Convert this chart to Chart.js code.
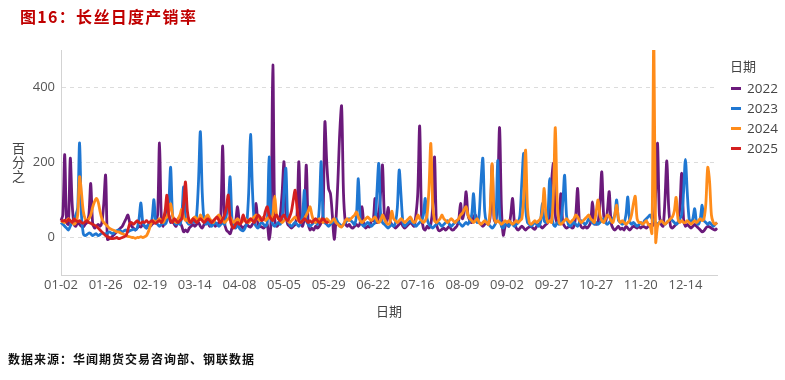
<!DOCTYPE html>
<html>
<head>
<meta charset="utf-8">
<script src="https://cdn.jsdelivr.net/npm/chart.js@4.4.1/dist/chart.umd.min.js"></script>
<style>
  html, body { margin:0; padding:0; background:#fff; }
  #wrap { position:relative; width:785px; height:380px; overflow:hidden; background:#fff; }
  #c { position:absolute; left:0; top:0; }
  .txt { position:absolute; white-space:nowrap; }
  #title { left:20px; top:8px; font-family:"Noto Sans CJK SC"; font-weight:700; font-size:16px; line-height:17px; color:#c00000; letter-spacing:1.3px; }
  #ytitle { left:11px; top:142px; font-family:"Noto Sans CJK SC"; font-size:13px; line-height:14px; color:#444; writing-mode:vertical-rl; letter-spacing:1px; }
  #xtitle { left:376px; top:304px; font-family:"Noto Sans CJK SC"; font-size:13px; line-height:14px; color:#444; }
  #legtitle { left:730px; top:59px; font-family:"Noto Sans CJK SC"; font-size:13px; line-height:14px; color:#444; }
  .lm { position:absolute; left:731px; width:10px; height:3px; }
  .lt { position:absolute; left:747px; font-family:"Open Sans"; font-size:13.5px; line-height:16px; color:#444; }
  #source { left:8px; top:352px; font-family:"Noto Sans CJK SC"; font-weight:700; font-size:12px; line-height:14px; color:#111; letter-spacing:1px; }
</style>
</head>
<body>
<div id="wrap">
  <canvas id="c" width="785" height="380"></canvas>
  <div id="title" class="txt">图16：长丝日度产销率</div>
  <div id="ytitle" class="txt">百分之</div>
  <div id="xtitle" class="txt">日期</div>
  <div id="legtitle" class="txt">日期</div>
  <div id="legend"></div>
  <div id="source" class="txt">数据来源：华闻期货交易咨询部、钢联数据</div>
</div>
<script>
// ---------- data ----------
const monthDays = [31, 29, 31, 30, 31, 30, 31, 31, 30, 31, 30, 31];
const missingDays = ['01-01', '04-05', '05-01', '05-02', '05-03', '09-15',
  '10-01', '10-02', '10-03', '10-04', '10-05', '10-06'];
const categories = [];
monthDays.forEach((n, m) => {
  for (let d = 1; d <= n; d++) {
    const s = String(m + 1).padStart(2, '0') + '-' + String(d).padStart(2, '0');
    if (!missingDays.includes(s)) categories.push(s);
  }
});
const tickLabels = ['01-02', '01-26', '02-19', '03-14', '04-08', '05-05', '05-29', '06-22',
  '07-16', '08-09', '09-02', '09-27', '10-27', '11-20', '12-14'];
const seriesNames = ['2022', '2023', '2024', '2025'];
const seriesColors = ['#6b1a7b', '#1f77d2', '#ff8c1a', '#d42020'];

const v2022 = [
  45, 60, 221, 40, 35, 211, 90, 35, 30, 40, 35, 30, 28, 35, 40, 60, 144, 40, 25, 30, 35, 30, 40, 90,
  166, -5, -3, 0, 5, 10, 15, 20, 25, 30, 40, 50, 60, 40, 30, 25, 20, 25, 30, 28, 35, 30, 25, 35,
  30, 35, 40, 45, 60, 252, 50, 30, 55, 75, 60, 40, 45, 35, 30, 50, 40, 30, 15, 20, 15, 25, 30, 35,
  30, 35, 40, 30, 25, 35, 45, 40, 30, 35, 40, 30, 35, 40, 60, 244, 40, 20, 15, 10, 25, 35, 45, 82,
  40, 30, 25, 30, 35, 30, 28, 35, 40, 91, 35, 30, 28, 25, 30, 35, -5, 40, 460, 50, 30, 35, 60, 120,
  202, 60, 35, 30, 25, 30, 35, 60, 202, 40, 30, 60, 193, 40, 20, 25, 20, 30, 25, 30, 40, 60, 308, 200,
  130, 117, 60, -5, 50, 150, 280, 350, 120, 40, 30, 35, 28, 25, 30, 35, 30, 40, 82, 35, 25, 30, 28, 45,
  45, 104, 40, 60, 120, 193, 60, 40, 80, 45, 35, 30, 25, 30, 35, 40, 30, 25, 30, 35, 40, 35, 30, 60,
  120, 297, 60, 25, 20, 30, 25, 35, 80, 215, 40, 20, 18, 22, 25, 20, 25, 30, 22, 20, 25, 30, 45, 91,
  50, 70, 122, 60, 45, 40, 55, 60, 45, 40, 35, 30, 35, 40, 35, 60, 193, 50, 40, 120, 293, 80, 6, 30,
  35, 30, 60, 104, 40, 25, 20, 25, 30, 25, 20, 25, 28, 30, 25, 22, 30, 35, 30, 25, 30, 35, 40, 60,
  150, 197, 60, 40, 50, 117, 40, 30, 25, 28, 30, 25, 30, 60, 131, 40, 28, 25, 30, 25, 30, 40, 95, 40,
  35, 40, 90, 175, 60, 40, 70, 122, 40, 25, 20, 25, 30, 22, 25, 20, 30, 25, 20, 25, 30, 28, 25, 30,
  25, 30, 28, 25, 30, 35, 30, 40, 120, 251, 60, 35, 30, 100, 204, 80, 30, 25, 30, 35, 40, 80, 171, 50,
  30, 35, 30, 25, 30, 35, 30, 25, 20, 15, 18, 25, 30, 28, 25, 22, 20, 25
];
const v2023 = [
  40, 35, 30, 25, 20, 30, 40, 50, 60, 80, 252, 60, 10, 5, 8, 12, 10, 5, 8, 10, 5, 8, 12, 10,
  10, 12, 15, 12, 10, 15, 18, 20, 18, 15, 18, 20, 15, 18, 20, 22, 20, 25, 50, 92, 40, 30, 25, 35,
  35, 50, 101, 40, 35, 30, 35, 40, 35, 45, 90, 187, 60, 40, 35, 40, 35, 60, 135, 50, 40, 35, 40, 45,
  40, 60, 150, 282, 120, 45, 35, 40, 35, 30, 35, 40, 35, 30, 35, 40, 35, 60, 90, 162, 50, 30, 25, 35,
  25, 20, 18, 25, 40, 120, 275, 130, 40, 30, 25, 35, 40, 35, 30, 40, 215, 50, 35, 30, 35, 40, 35, 50,
  120, 184, 50, 35, 30, 35, 40, 35, 30, 40, 60, 126, 45, 35, 30, 35, 40, 45, 35, 80, 202, 60, 40, 35,
  30, 35, 40, 45, 50, 40, 35, 30, 35, 40, 45, 50, 45, 40, 35, 60, 157, 50, 35, 30, 35, 40, 35, 30,
  35, 40, 120, 197, 60, 40, 35, 30, 25, 30, 35, 30, 40, 80, 180, 110, 40, 30, 35, 40, 45, 40, 35, 30,
  35, 40, 45, 60, 104, 50, 35, 30, 25, 30, 35, 40, 35, 30, 35, 40, 45, 35, 30, 35, 40, 45, 40, 35,
  30, 35, 40, 35, 45, 60, 117, 50, 40, 60, 150, 211, 70, 40, 35, 30, 25, 30, 40, 205, 60, 30, 25, 35,
  35, 30, 40, 35, 30, 35, 40, 60, 150, 224, 80, 40, 35, 30, 35, 40, 35, 30, 40, 91, 45, 40, 60, 157,
  60, 35, 30, 40, 35, 45, 90, 166, 60, 35, 30, 35, 40, 35, 30, 40, 45, 40, 35, 40, 50, 45, 40, 35,
  40, 35, 40, 45, 50, 40, 35, 40, 45, 50, 60, 100, 45, 40, 35, 40, 60, 108, 45, 35, 40, 35, 30, 35,
  40, 35, 45, 50, 55, 60, 50, 45, 40, 35, 40, 45, 40, 35, 40, 45, 50, 45, 40, 35, 40, 50, 60, 120,
  208, 120, 50, 40, 50, 77, 40, 35, 50, 86, 45, 40, 35, 40, 35, 30, 35, 40
];
const v2024 = [
  45, 42, 40, 45, 50, 45, 40, 35, 40, 60, 162, 120, 70, 50, 45, 50, 60, 80, 95, 104, 95, 70, 50, 40,
  35, 30, 25, 22, 20, 18, 15, 15, 12, 10, 8, 5, 3, 2, 0, 0, -2, 0, 0, 2, 0, 2, 5, 15,
  30, 42, 45, 40, 45, 50, 45, 40, 50, 55, 70, 90, 60, 45, 40, 50, 60, 75, 55, 45, 50, 40, 45, 50,
  55, 50, 45, 60, 50, 45, 55, 60, 50, 45, 40, 50, 55, 60, 50, 45, 40, 45, 50, 55, 45, 40, 45, 50,
  45, 40, 45, 50, 45, 40, 45, 50, 55, 60, 50, 45, 50, 55, 45, 50, 55, 50, 60, 110, 60, 50, 45, 40,
  45, 50, 45, 40, 45, 50, 55, 50, 45, 40, 45, 50, 60, 70, 82, 60, 45, 40, 45, 50, 45, 40, 45, 50,
  45, 40, 45, 50, 40, 35, 30, 28, 35, 45, 50, 45, 50, 55, 60, 68, 55, 45, 40, 45, 50, 55, 50, 45,
  50, 55, 45, 40, 45, 60, 50, 40, 35, 40, 70, 50, 45, 40, 45, 50, 45, 40, 45, 50, 55, 45, 40, 45,
  60, 50, 45, 40, 45, 60, 130, 251, 90, 45, 40, 45, 50, 60, 50, 45, 40, 45, 50, 45, 40, 45, 50, 60,
  65, 75, 82, 60, 50, 45, 40, 45, 50, 40, 35, 40, 45, 40, 35, 80, 197, 60, 40, 45, 40, 35, 40, 45,
  40, 45, 40, 35, 40, 45, 40, 45, 50, 110, 233, 80, 40, 35, 40, 45, 40, 45, 50, 70, 131, 60, 40, 45,
  40, 120, 293, 100, 40, 35, 40, 45, 50, 45, 40, 45, 50, 60, 55, 45, 40, 45, 50, 55, 60, 50, 45, 40,
  70, 100, 60, 45, 40, 50, 60, 55, 45, 40, 60, 86, 50, 40, 45, 40, 35, 40, 45, 60, 90, 110, 50, 40,
  40, 35, 40, 45, 35, 30, 11, 550, -12, 30, 40, 45, 40, 35, 40, 45, 50, 55, 70, 107, 50, 40, 45, 40,
  40, 45, 40, 35, 40, 45, 40, 45, 50, 45, 50, 90, 187, 150, 60, 40, 35, 40
];
const v2025 = [
  45, 44, 46, 42, 48, 45, 40, 50, 45, 42, 45, 40, 38, 42, 45, 40, 38, 35, 33, 30, 25, 20, 15, 10,
  5, 2, 0, -3, -3, -2, 0, -3, -2, 0, 2, 5, 20, 37, 40, 35, 40, 45, 40, 38, 42, 40, 45, 40,
  42, 45, 40, 38, 42, 45, 40, 50, 70, 113, 60, 45, 40, 50, 45, 40, 45, 50, 90, 148, 70, 45, 40, 50,
  45, 40, 45, 50, 45, 40, 45, 50, 45, 40, 45, 50, 55, 45, 40, 50, 60, 80, 113, 50, 30, 25, 35, 40,
  35, 40, 60, 45, 40, 45, 50, 45, 40, 50, 60, 55, 45, 50, 70, 82, 60, 50, 45, 55, 60, 50, 45, 55,
  60, 50, 45, 55, 70, 100, 126, 80, 45, 40, 45, 50, 45, 40, 45, 40, 45, 50, 45, 40, 45, 50, 45, 40,
  42
];
const seriesValues = [v2022, v2023, v2024, v2025];

// ---------- legend (html) ----------
const legendEl = document.getElementById('legend');
const legendY = [88, 108, 128, 148];
seriesNames.forEach((n, i) => {
  const m = document.createElement('div');
  m.className = 'lm';
  m.style.top = (legendY[i] - 1.5) + 'px';
  m.style.background = seriesColors[i];
  legendEl.appendChild(m);
  const t = document.createElement('div');
  t.className = 'lt';
  t.style.top = (legendY[i] - 8) + 'px';
  t.textContent = n;
  legendEl.appendChild(t);
});

// ---------- chart ----------
const datasets = seriesNames.map((n, i) => ({
  label: n,
  data: seriesValues[i],
  borderColor: seriesColors[i],
  backgroundColor: seriesColors[i],
  borderWidth: 2.8,
  pointRadius: 0,
  pointHoverRadius: 0,
  tension: 0.3,
  fill: false,
  spanGaps: true,
  order: 4 - i
}));

new Chart(document.getElementById('c'), {
  type: 'line',
  data: { labels: categories, datasets },
  options: {
    responsive: false,
    animation: false,
    devicePixelRatio: 1,
    layout: { padding: { top: 50, right: 68, left: 0, bottom: 75 } },
    plugins: { legend: { display: false }, title: { display: false }, tooltip: { enabled: false } },
    scales: {
      x: {
        type: 'category',
        offset: false,
        grid: { display: false, drawTicks: false },
        border: { display: true, color: '#d3d3d3', width: 1 },
        ticks: {
          autoSkip: false,
          maxRotation: 0,
          minRotation: 0,
          padding: 2,
          color: '#555',
          font: { family: 'Open Sans', size: 13 },
          callback: function (val, idx) {
            const lab = categories[idx];
            return tickLabels.includes(lab) ? lab : null;
          }
        },
        afterFit: s => { s.height = 30; }
      },
      y: {
        min: -100,
        max: 500,
        grid: { color: '#dcdcdc', lineWidth: 1, drawTicks: false },
        border: { display: true, color: '#d3d3d3', width: 1, dash: [4, 4] },
        ticks: { color: '#555', padding: 6, font: { family: 'Open Sans', size: 13 } },
        afterBuildTicks: s => { s.ticks = [{ value: 0 }, { value: 200 }, { value: 400 }]; },
        afterFit: s => { s.width = 61; }
      }
    }
  }
});
</script>
</body>
</html>
